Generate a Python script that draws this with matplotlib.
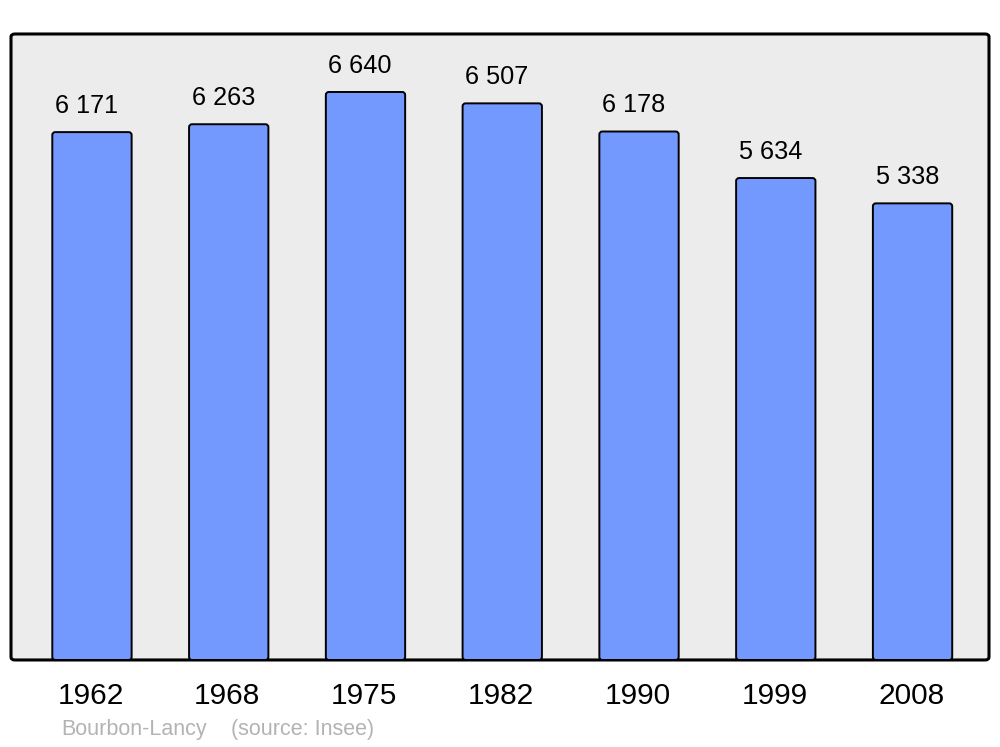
import matplotlib
matplotlib.use("Agg")
import matplotlib.pyplot as plt
from matplotlib.patches import FancyBboxPatch
from matplotlib.transforms import blended_transform_factory

years = ["1962", "1968", "1975", "1982", "1990", "1999", "2008"]
population = [6171, 6263, 6640, 6507, 6178, 5634, 5338]
value_labels = ["6 171", "6 263", "6 640", "6 507", "6 178", "5 634", "5 338"]

plt.rcParams['font.family'] = ['Liberation Sans', 'DejaVu Sans']

fig = plt.figure(figsize=(10, 7.47), dpi=100)
ax = fig.add_axes([0.011, 0.1165, 0.978, 0.838])
ax.set_xlim(-0.592, 6.559)
ax.set_ylim(0, 7318)
ax.axis('off')

# background frame with rounded corners
frame = FancyBboxPatch((0, 0), 1, 1, boxstyle="round,pad=0,rounding_size=0.004",
                       transform=ax.transAxes, facecolor="#ececec", edgecolor="black",
                       linewidth=2.2, clip_on=False, zorder=0, mutation_aspect=1.2)
ax.add_patch(frame)

width = 0.58
# px per data unit
xpx = 978 / (6.559 + 0.592)
ypx = 626 / 7318
rad_x = 3 / xpx
aspect = (1 / ypx) / (1 / xpx)
for i, v in enumerate(population):
    p = FancyBboxPatch((i - width / 2, 0), width, v,
                       boxstyle=f"round,pad=0,rounding_size={rad_x}",
                       mutation_aspect=aspect, facecolor="#7399ff",
                       edgecolor="black", linewidth=1.4, zorder=2)
    ax.add_patch(p)
    ax.annotate(value_labels[i], (i, v), xytext=(-3.8, 19), textcoords="offset points",
                ha="center", va="center", fontsize=18.2, color="black")

trans = blended_transform_factory(ax.transData, fig.transFigure)
for i, y in enumerate(years):
    ax.text(i - 0.01, (747 - 695.5) / 747, y, transform=trans, ha="center", va="center",
            fontsize=21.5, color="black")

fig.text(61 / 1000, (747 - 730) / 747, "Bourbon-Lancy", ha="left", va="center",
         fontsize=15.5, color="#b3b3b3")
fig.text(231 / 1000, (747 - 730) / 747, "(source: Insee)", ha="left", va="center",
         fontsize=15.5, color="#b3b3b3")

fig.savefig("out.png", dpi=100, facecolor="white")
